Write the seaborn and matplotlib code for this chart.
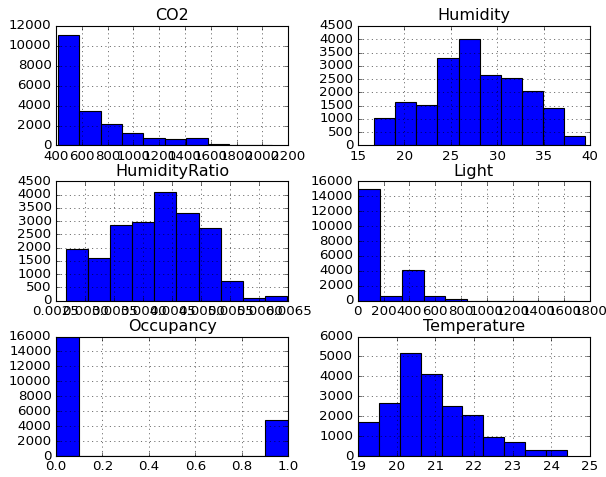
import numpy as np
import pandas as pd
import matplotlib
matplotlib.use("Agg")
import matplotlib.pyplot as plt
import seaborn as sns

plt.style.use("classic")
plt.rcParams["font.family"] = ["DejaVu Sans"]

# Column names (subplot titles)
columns = ["CO2", "Humidity", "HumidityRatio", "Light", "Occupancy", "Temperature"]

# Data range of each column (min, max) -> 10 equal bins
co2_range = (412.75, 2076.5)
humidity_range = (16.745, 39.5)
hratio_range = (0.002674, 0.006476)
light_range = (0.0, 1697.25)
occupancy_range = (0.0, 1.0)
temperature_range = (19.0, 24.408)

# Bin counts
co2_counts = [11100, 3500, 2180, 1280, 790, 600, 790, 170, 70, 50]
humidity_counts = [1050, 1650, 1510, 3300, 4010, 2660, 2540, 2050, 1420, 370]
hratio_counts = [1960, 1610, 2870, 2980, 4100, 3300, 2740, 760, 100, 165]
light_counts = [14920, 620, 4060, 600, 230, 6, 4, 3, 2, 2]
occupancy_counts = [15900, 0, 0, 0, 0, 0, 0, 0, 0, 4800]
temperature_counts = [1690, 2660, 5180, 4130, 2530, 2060, 960, 680, 280, 280]

series = {
    "CO2": (co2_range, co2_counts),
    "Humidity": (humidity_range, humidity_counts),
    "HumidityRatio": (hratio_range, hratio_counts),
    "Light": (light_range, light_counts),
    "Occupancy": (occupancy_range, occupancy_counts),
    "Temperature": (temperature_range, temperature_counts),
}

dpi = 80
fig, axes = plt.subplots(3, 2, figsize=(606 / dpi, 477 / dpi), dpi=dpi)
fig.patch.set_facecolor("white")
fig.subplots_adjust(left=0.0924, right=0.9736, top=0.9455, bottom=0.044,
                    wspace=0.30, hspace=0.30)

for ax, name in zip(axes.flat, columns):
    (lo, hi), counts = series[name]
    n = len(counts)
    width = (hi - lo) / n
    centers = lo + width * (np.arange(n) + 0.5)
    df = pd.DataFrame({"value": centers, "count": counts})
    sns.histplot(data=df, x="value", weights="count", bins=n, binrange=(lo, hi),
                 ax=ax, color="#0000ff", edgecolor="black", linewidth=1.0,
                 alpha=1.0)
    ax.set_title(name)
    ax.set_xlabel("")
    ax.set_ylabel("")
    ax.grid(True)
    ax.set_facecolor("white")

fig.savefig("out.png", dpi=dpi, facecolor="white")
